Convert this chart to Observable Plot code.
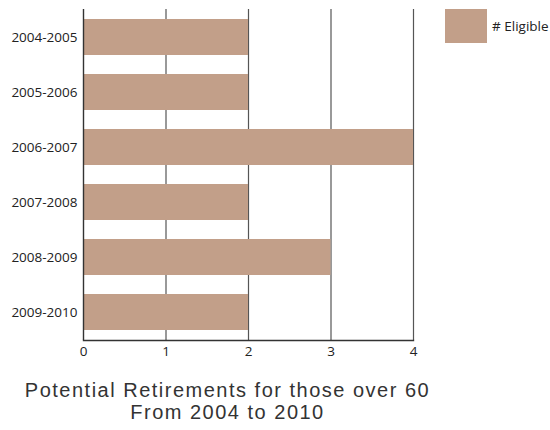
<!DOCTYPE html>
<html>
<head>
<meta charset="utf-8">
<script src="https://cdn.jsdelivr.net/npm/d3@7"></script>
<script src="https://cdn.jsdelivr.net/npm/@observablehq/plot@0.6"></script>
<style>
  html, body { margin: 0; padding: 0; background: #fff; }
  #wrap { position: relative; width: 550px; height: 430px; }
  #legend { position: absolute; left: 445px; top: 9px; display: flex; align-items: center;
            font-family: "Open Sans", "Noto Sans", sans-serif; font-size: 13.5px; color: #222; }
  #legend .sw { width: 42px; height: 34px; background: #c29f89; margin-right: 5px; }
  #title { position: absolute; left: 0; top: 379px; width: 455px; text-align: center;
           font-family: "Liberation Sans", Arial, sans-serif; font-size: 20px; line-height: 22px;
           letter-spacing: 1.5px; color: #333; }
</style>
</head>
<body>
<div id="wrap">
  <div id="chart"></div>
  <div id="legend"><div class="sw"></div><span># Eligible</span></div>
  <div id="title">Potential Retirements for those over 60<br>From 2004 to 2010</div>
</div>
<script>
const periods = ["2004-2005", "2005-2006", "2006-2007", "2007-2008", "2008-2009", "2009-2010"];
const eligible = [2, 2, 4, 2, 3, 2];
const xTicks = [0, 1, 2, 3, 4];
const seriesName = "# Eligible";

const data = periods.map((p, i) => ({period: p, value: eligible[i]}));

const chart = Plot.plot({
  width: 550,
  height: 362,
  marginTop: 9,
  marginBottom: 22,
  marginLeft: 83,
  marginRight: 137,
  style: {fontFamily: "'Open Sans', 'Noto Sans', sans-serif", fontSize: "13px", color: "#222", background: "#fff"},
  x: {domain: [0, 4], ticks: xTicks, label: null},
  y: {domain: periods, paddingInner: 0.35, paddingOuter: 0.175, label: null},
  marks: [
    Plot.ruleX(xTicks.filter(d => d > 0), {stroke: "#555", strokeWidth: 1.2}),
    Plot.barX(data, {x: "value", y: "period", fill: "#c29f89"}),
    Plot.ruleX([0], {stroke: "#333", strokeWidth: 1.4}),
    Plot.frame({anchor: "bottom", stroke: "#333", strokeWidth: 1.4}),
    Plot.axisX({ticks: xTicks, tickSize: 0, tickPadding: 6, fontSize: 13.5, tickFormat: d => String(d)}),
    Plot.axisY({tickSize: 0, tickPadding: 6, fontSize: 13.5})
  ]
});
document.getElementById("chart").appendChild(chart);
</script>
</body>
</html>
